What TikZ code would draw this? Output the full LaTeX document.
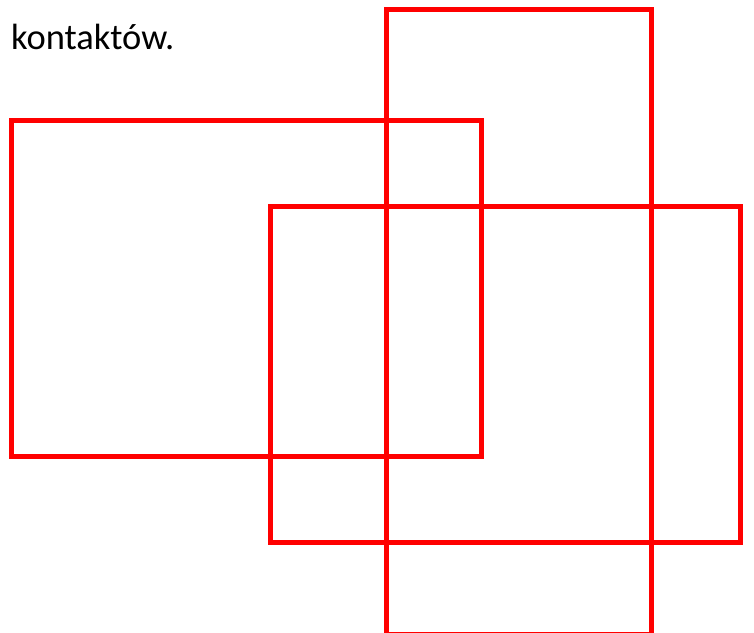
\documentclass[tikz,border=0pt]{standalone}
\usepackage{fontspec}
\setmainfont{Carlito}
\usetikzlibrary{positioning}

\begin{document}
\begin{tikzpicture}[
        x=1pt, y=1pt,
        frame/.style={draw=red, line width=5pt},
        label/.style={anchor=base west, inner sep=0pt, font=\fontsize{36.5}{44}\selectfont}
    ]
        \clip (0,0) rectangle (754,632);
        \useasboundingbox (0,0) rectangle (754,632);

        \node[label] (txt) at (11,582) {kontaktów.};

        \draw[frame] (11.5,511.5) rectangle (481.5,175.3);
        \draw[frame] (386.7,622) rectangle (651,-2);
        \draw[frame] (270.3,425.5) rectangle (740,89.3);
    \end{tikzpicture}
\end{document}
